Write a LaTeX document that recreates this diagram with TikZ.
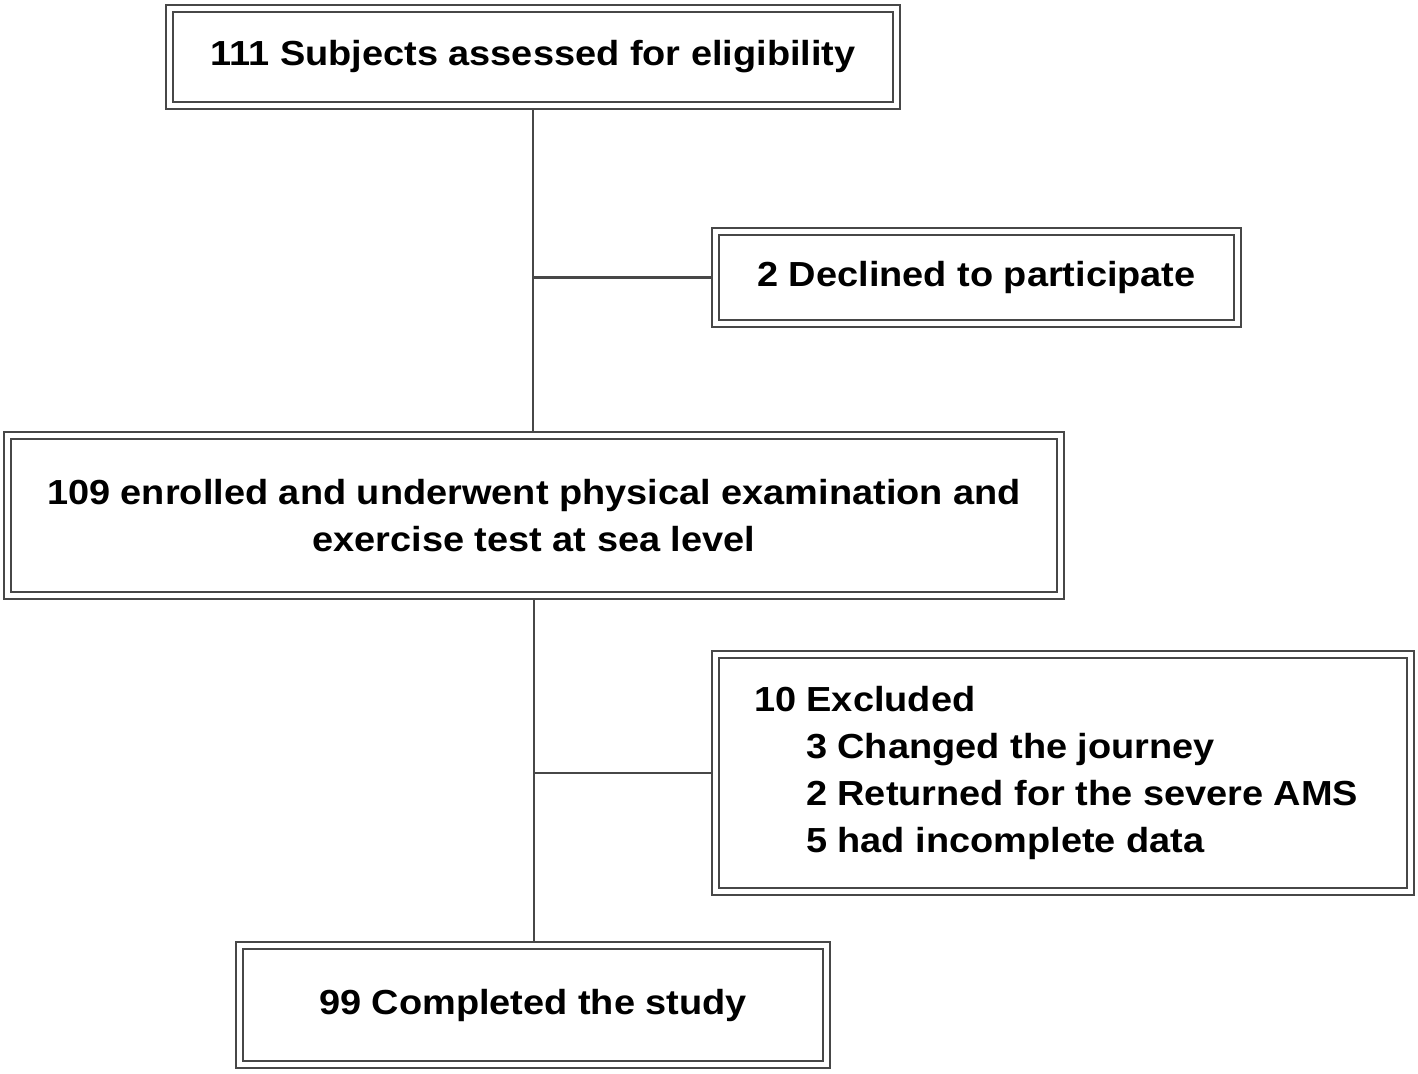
\documentclass[tikz,border=0pt]{standalone}
\usepackage{fontspec}
\setmainfont{Liberation Sans}[FakeStretch=1.09]
\usepackage{tikz}
\usetikzlibrary{calc,backgrounds}

\begin{document}
\begin{tikzpicture}[x=0.5pt,y=-0.5pt,
    stagebox/.style={rectangle,draw=black!72,line width=1.1pt,double=white,double distance=2.4pt,fill=white,inner sep=0pt,align=center,font=\fontsize{17.4pt}{23.5pt}\selectfont\bfseries},
    link/.style={draw=black!72,line width=1.2pt}]
              \useasboundingbox (0,0) rectangle (1418,1073);
              \node[stagebox,minimum width=363.5pt,minimum height=48.5pt](assessed)at(533,57){111 Subjects assessed for eligibility};
              \node[stagebox,minimum width=261pt,minimum height=46pt](declined)at(976.5,277.5){2 Declined to participate};
              \node[stagebox,minimum width=526.5pt,minimum height=80pt](enrolled)at(534,515.5){109 enrolled and underwent physical examination and\\exercise test at sea level};
              \node[stagebox,minimum width=347.5pt,minimum height=118.5pt,text width=309pt,align=flush left](excluded)at(1063,773){10 Excluded\\\hspace*{26pt}3 Changed the journey\\\hspace*{26pt}2 Returned for the severe AMS\\\hspace*{26pt}5 had incomplete data};
              \node[stagebox,minimum width=293.5pt,minimum height=59.5pt](completed)at(533,1005){99 Completed the study};
              \begin{scope}[on background layer]
              \draw[link](assessed)--(assessed|-enrolled.north);
              \draw[link](enrolled)--(enrolled|-completed.north);
              \draw[link](declined.west-|assessed)--(declined.west);
              \draw[link](excluded.west-|assessed)--(excluded.west);
              \end{scope}
            \end{tikzpicture}
\end{document}
